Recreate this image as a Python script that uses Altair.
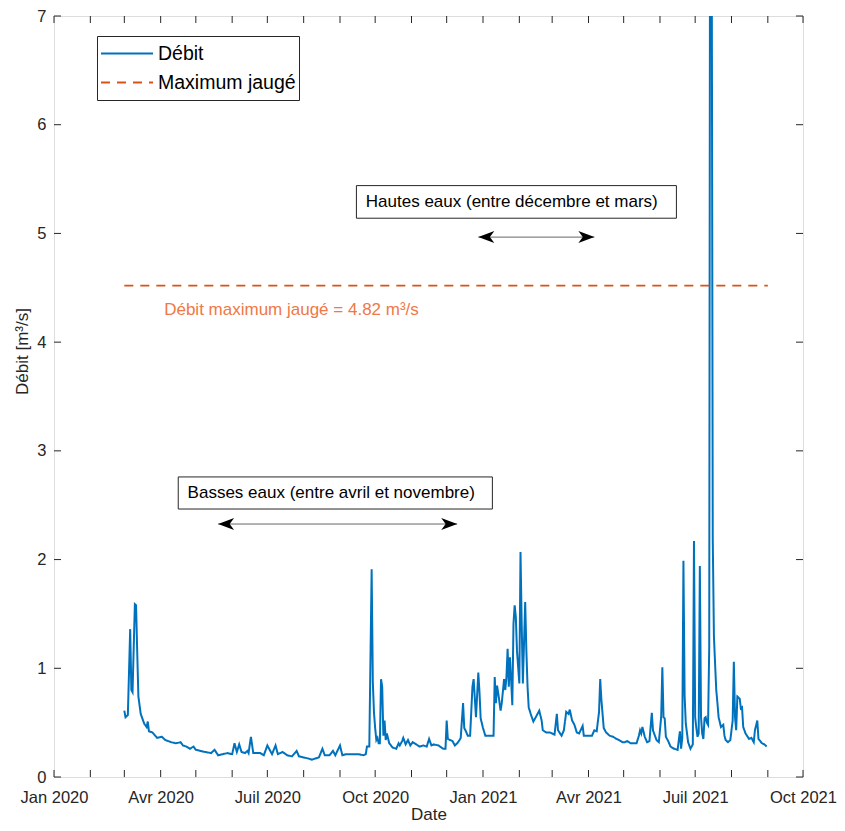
import altair as alt
import pandas as pd

# ---------------- data ----------------
dates = [
    "2020-03-01", "2020-03-02", "2020-03-04", "2020-03-06", "2020-03-07", "2020-03-08", "2020-03-10",
    "2020-03-11", "2020-03-12", "2020-03-13", "2020-03-15", "2020-03-16", "2020-03-18", "2020-03-20",
    "2020-03-21", "2020-03-22", "2020-03-25", "2020-03-29", "2020-04-02", "2020-04-05", "2020-04-10",
    "2020-04-14", "2020-04-18", "2020-04-20", "2020-04-23", "2020-04-26", "2020-04-29", "2020-05-01",
    "2020-05-05", "2020-05-09", "2020-05-14", "2020-05-17", "2020-05-20", "2020-05-24", "2020-05-28",
    "2020-06-01", "2020-06-03", "2020-06-05", "2020-06-07", "2020-06-09", "2020-06-12", "2020-06-14",
    "2020-06-15", "2020-06-17", "2020-06-19", "2020-06-25", "2020-06-28", "2020-07-01", "2020-07-03",
    "2020-07-05", "2020-07-08", "2020-07-10", "2020-07-14", "2020-07-18", "2020-07-22", "2020-07-26",
    "2020-07-28", "2020-08-01", "2020-08-05", "2020-08-08", "2020-08-11", "2020-08-14", "2020-08-17",
    "2020-08-19", "2020-08-23", "2020-08-26", "2020-08-28", "2020-09-01", "2020-09-03", "2020-09-06",
    "2020-09-11", "2020-09-17", "2020-09-21", "2020-09-23", "2020-09-24", "2020-09-26", "2020-09-28",
    "2020-09-29", "2020-09-30", "2020-10-01", "2020-10-02", "2020-10-03", "2020-10-04", "2020-10-05",
    "2020-10-06", "2020-10-07", "2020-10-08", "2020-10-09", "2020-10-10", "2020-10-11", "2020-10-13",
    "2020-10-16", "2020-10-19", "2020-10-21", "2020-10-22", "2020-10-24", "2020-10-25", "2020-10-27",
    "2020-10-29", "2020-10-31", "2020-11-02", "2020-11-05", "2020-11-08", "2020-11-11", "2020-11-14",
    "2020-11-16", "2020-11-18", "2020-11-20", "2020-11-24", "2020-11-28", "2020-11-30", "2020-12-01",
    "2020-12-02", "2020-12-04", "2020-12-06", "2020-12-08", "2020-12-10", "2020-12-12", "2020-12-13",
    "2020-12-15", "2020-12-16", "2020-12-17", "2020-12-19", "2020-12-21", "2020-12-23", "2020-12-24",
    "2020-12-26", "2020-12-28", "2020-12-29", "2020-12-30",
    "2021-01-01", "2021-01-03", "2021-01-07", "2021-01-10", "2021-01-11", "2021-01-12", "2021-01-13",
    "2021-01-14", "2021-01-16", "2021-01-17", "2021-01-19", "2021-01-20", "2021-01-21", "2021-01-22",
    "2021-01-23", "2021-01-24", "2021-01-25", "2021-01-26", "2021-01-27", "2021-01-28", "2021-01-29",
    "2021-01-30", "2021-02-01", "2021-02-02", "2021-02-03", "2021-02-04", "2021-02-06", "2021-02-07",
    "2021-02-08", "2021-02-09", "2021-02-11", "2021-02-13", "2021-02-15", "2021-02-18", "2021-02-20",
    "2021-02-21", "2021-02-24", "2021-02-27", "2021-03-01", "2021-03-03", "2021-03-05", "2021-03-06",
    "2021-03-09", "2021-03-11", "2021-03-13", "2021-03-15", "2021-03-16", "2021-03-18", "2021-03-20",
    "2021-03-22", "2021-03-24", "2021-03-27", "2021-03-28", "2021-04-01", "2021-04-04", "2021-04-06",
    "2021-04-08", "2021-04-10", "2021-04-11", "2021-04-12", "2021-04-14", "2021-04-16", "2021-04-19",
    "2021-04-22", "2021-04-25", "2021-04-27", "2021-04-30", "2021-05-02", "2021-05-04", "2021-05-07",
    "2021-05-12", "2021-05-14", "2021-05-15", "2021-05-16", "2021-05-17", "2021-05-19", "2021-05-21",
    "2021-05-23", "2021-05-25", "2021-05-26", "2021-05-27", "2021-05-29", "2021-05-31", "2021-06-02",
    "2021-06-03", "2021-06-04", "2021-06-05", "2021-06-06", "2021-06-08", "2021-06-10", "2021-06-13",
    "2021-06-16", "2021-06-18", "2021-06-19", "2021-06-20", "2021-06-21", "2021-06-22", "2021-06-23",
    "2021-06-25", "2021-06-27", "2021-06-29", "2021-06-30", "2021-07-01", "2021-07-02", "2021-07-03",
    "2021-07-04", "2021-07-05", "2021-07-06", "2021-07-07", "2021-07-08", "2021-07-09", "2021-07-10",
    "2021-07-11", "2021-07-12", "2021-07-13", "2021-07-14", "2021-07-15", "2021-07-16", "2021-07-17",
    "2021-07-18", "2021-07-19", "2021-07-20", "2021-07-21", "2021-07-23", "2021-07-25", "2021-07-26",
    "2021-07-27", "2021-07-29", "2021-07-31", "2021-08-02", "2021-08-03", "2021-08-04", "2021-08-05",
    "2021-08-06", "2021-08-08", "2021-08-09", "2021-08-10", "2021-08-11", "2021-08-13", "2021-08-16",
    "2021-08-18", "2021-08-20", "2021-08-21", "2021-08-23", "2021-08-24", "2021-08-27", "2021-08-29",
    "2021-08-31",
]
debit = [
    0.61, 0.55, 0.57, 1.36, 0.80, 0.78, 1.59,
    1.58, 1.15, 0.74, 0.58, 0.55, 0.49, 0.46,
    0.51, 0.42, 0.41, 0.36, 0.37, 0.34, 0.32,
    0.31, 0.32, 0.29, 0.28, 0.26, 0.28, 0.25,
    0.24, 0.23, 0.22, 0.25, 0.20, 0.21, 0.22,
    0.21, 0.31, 0.23, 0.30, 0.23, 0.22, 0.24,
    0.22, 0.37, 0.22, 0.22, 0.20, 0.29, 0.25,
    0.21, 0.29, 0.21, 0.23, 0.20, 0.19, 0.24,
    0.19, 0.18, 0.17, 0.16, 0.17, 0.18, 0.26,
    0.20, 0.20, 0.24, 0.20, 0.29, 0.20, 0.21,
    0.21, 0.21, 0.20, 0.21, 0.28, 0.28, 1.91,
    0.87, 0.59, 0.45, 0.34, 0.36, 0.31, 0.31,
    0.90, 0.83, 0.38, 0.52, 0.34, 0.40, 0.31,
    0.27, 0.26, 0.31, 0.29, 0.33, 0.36, 0.30,
    0.34, 0.29, 0.32, 0.30, 0.28, 0.29, 0.28,
    0.35, 0.29, 0.30, 0.29, 0.26, 0.26, 0.52,
    0.35, 0.34, 0.33, 0.29, 0.31, 0.34, 0.36,
    0.68, 0.45, 0.43, 0.38, 0.38, 0.83, 0.90,
    0.55, 0.96, 0.78, 0.54,
    0.45, 0.38, 0.38, 0.38, 0.92, 0.68, 0.84,
    0.77, 0.61, 0.68, 0.90, 0.80, 0.92, 1.18,
    0.83, 1.10, 0.89, 0.66, 1.41, 1.58, 1.47,
    1.16, 0.86, 2.07, 1.41, 0.86, 1.61, 1.16,
    0.83, 0.64, 0.57, 0.51, 0.55, 0.61, 0.52,
    0.43, 0.41, 0.41, 0.40, 0.39, 0.58, 0.43,
    0.38, 0.43, 0.60, 0.58, 0.62, 0.52, 0.48,
    0.41, 0.40, 0.47, 0.38, 0.38, 0.38, 0.43,
    0.42, 0.60, 0.90, 0.71, 0.45, 0.41, 0.38,
    0.37, 0.35, 0.34, 0.32, 0.32, 0.33, 0.31,
    0.31, 0.38, 0.43, 0.40, 0.46, 0.37, 0.32,
    0.33, 0.59, 0.43, 0.40, 0.34, 0.32, 0.55,
    1.01, 0.55, 0.54, 0.37, 0.33, 0.28, 0.26,
    0.25, 0.42, 0.26, 0.36, 1.99, 0.75, 0.49,
    0.32, 0.26, 0.30, 2.17, 0.55, 0.45, 0.37,
    0.40, 1.94, 0.55, 0.40, 0.35, 0.54, 0.55,
    0.50, 0.48, 1.20, 11.0, 8.5, 2.2, 1.3,
    1.04, 0.80, 0.68, 0.55, 0.46, 0.48, 0.38,
    0.34, 0.32, 0.34, 0.52, 1.06, 0.55, 0.43,
    0.74, 0.72, 0.63, 0.64, 0.46, 0.40, 0.35,
    0.36, 0.32, 0.43, 0.52, 0.35, 0.31, 0.30,
    0.28,
]
max_dates = ["2020-03-01", "2021-09-01"]
max_jauge = [4.52, 4.52]
series_names = ["Débit", "Maximum jaugé"]
month_ticks = pd.date_range("2020-01-01", "2021-10-01", freq="MS").strftime("%Y-%m-%d").tolist()
y_ticks = [0, 1, 2, 3, 4, 5, 6, 7]
quarter_labels = [(2020, 1), (2020, 4), (2020, 7), (2020, 10), (2021, 1), (2021, 4), (2021, 7), (2021, 10)]

# annotations (in data coordinates)
box_x1 = ["2020-09-15", "2020-04-16"]
box_x2 = ["2021-06-15", "2021-01-09"]
box_y1 = [5.44, 2.76]
box_y2 = [5.14, 2.465]
box_text = ["Hautes eaux (entre décembre et mars)", "Basses eaux (entre avril et novembre)"]
box_text_x = ["2020-09-23", "2020-04-24"]
box_text_y = [5.29, 2.61]
arrow_x1 = ["2020-12-28", "2020-05-20"]
arrow_x2 = ["2021-04-06", "2020-12-10"]
arrow_y = [4.966, 2.327]
max_label = "Débit maximum jaugé = 4.82 m³/s"
max_label_x = ["2020-04-04"]
max_label_y = [4.30]

# ---------------- chart ----------------
W, H = 749, 761
FONT = "Liberation Sans"
AX = "#262626"

df = pd.DataFrame({"date": dates, "debit": debit, "serie": series_names[0]})
df_max = pd.DataFrame({"date": max_dates, "debit": max_jauge, "serie": series_names[1]})
df_mt = pd.DataFrame({"date": month_ticks})
df_yt = pd.DataFrame({"v": y_ticks})
df_box = pd.DataFrame({"x1": box_x1, "x2": box_x2, "y1": box_y1, "y2": box_y2,
                       "tx": box_text_x, "ty": box_text_y, "label": box_text})
df_arr = pd.DataFrame({"x1": arrow_x1, "x2": arrow_x2, "y": arrow_y})
df_lab = pd.DataFrame({"x": max_label_x, "y": max_label_y, "label": [max_label]})

xscale = alt.Scale(type="utc", domain=[alt.DateTime(year=2020, month=1, date=1, utc=True),
                                       alt.DateTime(year=2021, month=10, date=1, utc=True)])
yscale = alt.Scale(domain=[0, 7], nice=False, zero=False)

label_expr = ("['Jan','Fév','Mar','Avr','Mai','Juin','Juil','Aoû','Sep','Oct','Nov','Déc']"
              "[utcmonth(datum.value)] + ' ' + utcyear(datum.value)")
xaxis = alt.Axis(values=[alt.DateTime(year=y, month=m, date=1, utc=True) for y, m in quarter_labels],
                 labelExpr=label_expr, ticks=False, tickSize=0, domain=False, grid=False,
                 labelFontSize=16.5, labelColor=AX, labelPadding=12, labelFont=FONT,
                 title="Date", titleFontSize=17, titleFont=FONT, titleColor=AX,
                 titleFontWeight="normal", titlePadding=1, labelFlush=False, labelOverlap=False)
yaxis = alt.Axis(values=y_ticks, ticks=False, tickSize=0, domain=False, grid=False,
                 labelFontSize=16.5, labelColor=AX, labelPadding=8, labelFont=FONT,
                 title="Débit [m³/s]", titleFontSize=17, titleFont=FONT, titleColor=AX,
                 titleFontWeight="normal", titlePadding=5, titleY=335)

legend = alt.Legend(title=None, orient="none", legendX=43, legendY=20, symbolType="stroke",
                    symbolSize=2704, symbolStrokeWidth=2, labelFontSize=19.5, labelFont=FONT,
                    labelColor="#000000", padding=3, strokeColor=AX, fillColor="white",
                    clipHeight=29, labelOffset=4, rowPadding=0, labelLimit=300)
color_scale = alt.Scale(domain=series_names, range=["#0072BD", "#D95319"])
dash_scale = alt.Scale(domain=series_names, range=[[1, 0], [9, 7]])

enc_color = alt.Color("serie:N", scale=color_scale, legend=legend)
enc_dash = alt.StrokeDash("serie:N", scale=dash_scale, legend=legend)


def X(field):
    return alt.X(field, scale=xscale, axis=xaxis, title="Date")


def Y(field):
    return alt.Y(field, scale=yscale, axis=yaxis, title="Débit [m³/s]")


line = alt.Chart(df).mark_line(clip=True, strokeWidth=2).encode(
    x=X("date:T"), y=Y("debit:Q"), color=enc_color, strokeDash=enc_dash,
)
maxline = alt.Chart(df_max).mark_line(strokeWidth=1.6).encode(
    x=X("date:T"), y=Y("debit:Q"), color=enc_color, strokeDash=enc_dash,
)

tick_style = dict(color=AX, strokeWidth=1)
xt_bottom = alt.Chart(df_mt).mark_rule(**tick_style).encode(
    x=X("date:T"), y=alt.value(H), y2=alt.value(H - 7))
xt_top = alt.Chart(df_mt).mark_rule(**tick_style).encode(
    x=X("date:T"), y=alt.value(0), y2=alt.value(7))
yt_left = alt.Chart(df_yt).mark_rule(**tick_style).encode(
    y=Y("v:Q"), x=alt.value(0), x2=alt.value(7))
yt_right = alt.Chart(df_yt).mark_rule(**tick_style).encode(
    y=Y("v:Q"), x=alt.value(W - 7), x2=alt.value(W))

boxes = alt.Chart(df_box).mark_rect(fill="white", stroke=AX, strokeWidth=1).encode(
    x=X("x1:T"), x2="x2:T", y=Y("y1:Q"), y2="y2:Q")
box_labels = alt.Chart(df_box).mark_text(align="left", baseline="middle", fontSize=17,
                                         font=FONT, color="#000000").encode(
    x=X("tx:T"), y=Y("ty:Q"), text="label:N")

arrow_lines = alt.Chart(df_arr).mark_rule(color="#666666", strokeWidth=1).encode(
    x=X("x1:T"), x2="x2:T", y=Y("y:Q"))
head_left = alt.Chart(df_arr).mark_point(shape="M0,0 L2,-0.75 L1.45,0 L2,0.75 Z", size=256,
                                         filled=True, color="#000000", opacity=1).encode(
    x=X("x1:T"), y=Y("y:Q"))
head_right = alt.Chart(df_arr).mark_point(shape="M0,0 L-2,-0.75 L-1.45,0 L-2,0.75 Z", size=256,
                                          filled=True, color="#000000", opacity=1).encode(
    x=X("x2:T"), y=Y("y:Q"))

max_text = alt.Chart(df_lab).mark_text(align="left", baseline="middle", fontSize=17, font=FONT,
                                       color="#F07846").encode(
    x=X("x:T"), y=Y("y:Q"), text="label:N")

chart = alt.layer(
    line, maxline, xt_bottom, xt_top, yt_left, yt_right,
    boxes, box_labels, arrow_lines, head_left, head_right, max_text,
).properties(
    width=W, height=H,
    autosize=alt.AutoSizeParams(type="none"),
    padding={"left": 46, "top": 8, "right": 34, "bottom": 46},
    background="white",
).configure_view(stroke=AX, strokeWidth=1).configure(font=FONT)

chart.save("out.html", embed_options={"renderer": "svg", "actions": False})
